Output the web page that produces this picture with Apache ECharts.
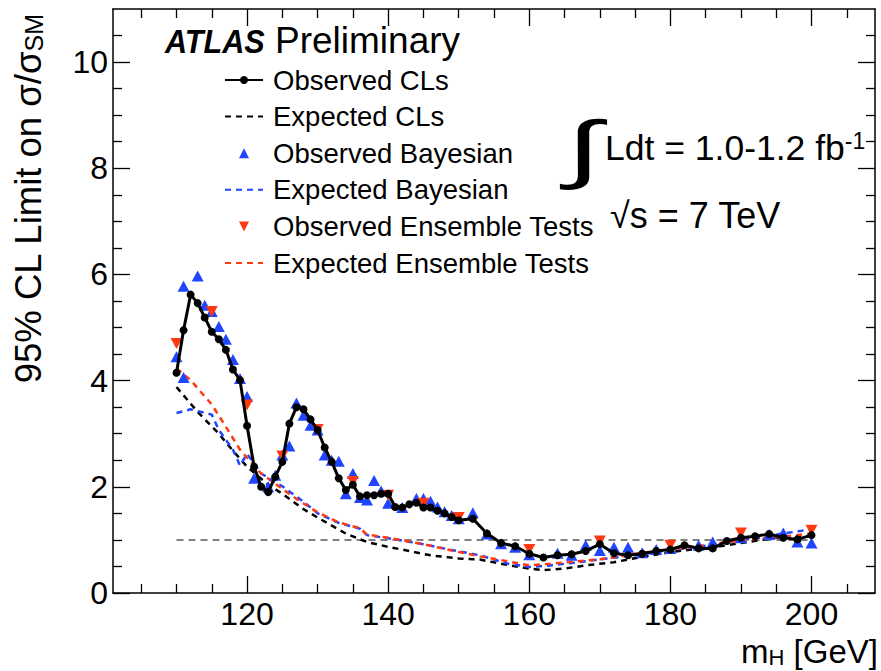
<!DOCTYPE html>
<html>
<head>
<meta charset="utf-8">
<script src="https://cdn.jsdelivr.net/npm/echarts@6/dist/echarts.min.js"></script>
<style>
html,body{margin:0;padding:0;background:#fff;}
#chart{width:881px;height:671px;}
</style>
</head>
<body>
<div id="chart"></div>
<script>
// ---------- data ----------
const massObs = [110,111,112,113,114,115,116,117,118,119,120,121,122,123,124,125,126,127,128,129,130,
  131,132,133,134,135,136,137,138,139,140,141,142,143,144,145,146,147,148,149,150,
  152,154,156,158,160,162,164,166,168,170,172,174,176,178,180,182,184,186,188,190,192,194,196,198,200];
const obsCLs = [4.15,4.95,5.62,5.46,5.19,4.92,4.78,4.58,4.21,4.01,3.15,2.38,2.00,1.90,2.19,2.47,3.19,3.50,3.46,3.27,3.07,
  2.74,2.47,2.16,1.94,2.04,1.82,1.84,1.84,1.87,1.87,1.62,1.61,1.67,1.70,1.61,1.61,1.55,1.50,1.43,1.37,
  1.40,1.12,0.94,0.88,0.74,0.67,0.71,0.73,0.79,0.92,0.75,0.71,0.74,0.79,0.82,0.90,0.84,0.84,0.98,1.04,1.07,1.11,1.04,1.01,1.09];

const expCLsMass = [110,113,116,118,120,123,125,128,130,134,137,140,146,150,153,156,160,162,165,168,172,176,180,183,187,191,195,200];
const expCLs     = [3.88,3.41,3.00,2.68,2.38,2.04,1.87,1.58,1.42,1.12,0.96,0.87,0.71,0.65,0.63,0.55,0.46,0.43,0.46,0.52,0.58,0.68,0.77,0.82,0.88,0.96,1.04,1.07];

const bayObsMass = [110,111,111,113,114,115,116,117,118,119,120,121,123,124,125,126,127,128,129,130,131,132,133,134,135,136,137,138,139,140,
  142,144,145,146,147,148,149,150,152,154,156,158,160,164,166,168,170,172,174,176,178,180,184,186,190,194,196,198,200];
const bayObs     = [4.45,4.06,5.78,5.97,5.42,5.30,5.02,4.78,4.40,4.04,3.70,2.16,2.00,2.22,2.60,2.77,3.58,3.35,3.16,3.07,2.60,2.50,2.48,1.87,2.25,1.80,1.75,2.12,1.92,1.69,
  1.61,1.78,1.78,1.73,1.62,1.53,1.46,1.40,1.51,1.11,0.93,0.86,0.72,0.75,0.71,0.90,0.80,0.86,0.86,0.76,0.82,0.84,0.90,0.96,1.04,1.10,1.13,0.96,0.94];

const bayExpMass = [110,112,115,116,118,119,120,121,122,125,128,130,133,136,137,140,145,149,153,157,160,163,167,171,175,180,184,188,192,196,200];
const bayExp     = [3.39,3.46,3.36,3.07,2.70,2.40,2.62,2.44,2.25,2.01,1.72,1.50,1.32,1.21,1.09,1.03,0.92,0.81,0.71,0.55,0.49,0.52,0.58,0.65,0.71,0.81,0.87,0.96,1.03,1.12,1.20];

const ensObsMass = [110,115,120,125,130,135,140,145,150,160,170,180,190,200];
const ensObs     = [4.70,5.30,3.54,2.58,3.08,2.10,1.84,1.69,1.42,0.82,0.98,0.90,1.13,1.18];

const ensExpMass = [110,112,115,117,119,122,124,127,130,133,136,137,140,145,149,153,156,160,163,167,171,175,180,183,188,193,196,200];
const ensExp     = [4.23,4.01,3.55,3.13,2.70,2.25,2.06,1.77,1.52,1.33,1.22,1.10,1.04,0.92,0.80,0.69,0.62,0.52,0.55,0.60,0.65,0.74,0.82,0.87,0.96,1.03,1.06,1.12];

const smMass  = [110, 200];
const smLevel = [1, 1];

const xLabels = [120,140,160,180,200];
const xMinor  = [105,110,115,125,130,135,145,150,155,165,170,175,185,190,195,205];
const yLabels = [0,2,4,6,8,10];
const yMinor  = [0.5,1,1.5,2.5,3,3.5,4.5,5,5.5,6.5,7,7.5,8.5,9,9.5,10.5];

const seriesNames = ['Observed CLs','Expected CLs','Observed Bayesian','Expected Bayesian','Observed Ensemble Tests','Expected Ensemble Tests'];

// ---------- chart ----------
const zip = (a,b) => a.map((v,i)=>[v,b[i]]);
const FONT = 'Liberation Sans, Arial, Helvetica, sans-serif';
const BLUE = '#1f45ff', RED = '#ff3a12';
const X0 = 101, X1 = 209, Y0 = 0, Y1 = 11;
const TRI_UP = 'path://M0,10 L5,0 L10,10 Z';
const TRI_DOWN = 'path://M0,0 L10,0 L5,10 Z';

function xAx(pos, labels, ticks, len, line) {
  return {
    type:'value', position:pos, min:X0, max:X1,
    axisLine:{show:line, onZero:false, lineStyle:{color:'#000', width:1.5}},
    axisTick:{show:true, inside:true, length:len, customValues:ticks, lineStyle:{color:'#000', width:1.3}},
    axisLabel:{show:labels, customValues:xLabels, color:'#000', fontFamily:FONT, fontSize:32, lineHeight:24, margin:9},
    splitLine:{show:false}
  };
}
function yAx(pos, labels, ticks, len, line) {
  return {
    type:'value', position:pos, min:Y0, max:Y1,
    axisLine:{show:line, onZero:false, lineStyle:{color:'#000', width:1.5}},
    axisTick:{show:true, inside:true, length:len, customValues:ticks, lineStyle:{color:'#000', width:1.3}},
    axisLabel:{show:labels, customValues:yLabels, color:'#000', fontFamily:FONT, fontSize:32, margin:5},
    splitLine:{show:false}
  };
}

const chart = echarts.init(document.getElementById('chart'), null, {renderer:'svg'});
chart.setOption({
  animation:false,
  backgroundColor:'#fff',
  grid:{left:113, right:6, top:9, bottom:78, containLabel:false},
  xAxis:[
    xAx('bottom', true, xLabels, 17, true),
    xAx('bottom', false, xMinor, 9, false),
    xAx('top', false, xLabels, 17, true),
    xAx('top', false, xMinor, 9, false)
  ],
  yAxis:[
    yAx('left', true, yLabels, 17, true),
    yAx('left', false, yMinor, 9, false),
    yAx('right', false, yLabels, 17, true),
    yAx('right', false, yMinor, 9, false)
  ],
  legend:{
    orient:'vertical', left:224, top:66, padding:0, itemWidth:38, itemHeight:10, itemGap:8.6,
    textStyle:{fontFamily:FONT, fontSize:27.5, color:'#000', lineHeight:28, padding:[0,0,0,5]},
    data:[
      {name:seriesNames[0]},
      {name:seriesNames[1], itemStyle:{opacity:0}},
      {name:seriesNames[2], icon:TRI_UP},
      {name:seriesNames[3], itemStyle:{opacity:0}},
      {name:seriesNames[4], icon:TRI_DOWN},
      {name:seriesNames[5], itemStyle:{opacity:0}}
    ]
  },
  series:[
    {name:seriesNames[0], type:'line', data:zip(massObs, obsCLs), z:10,
      symbol:'circle', symbolSize:8, showSymbol:true,
      itemStyle:{color:'#000'}, lineStyle:{color:'#000', width:3}},
    {name:seriesNames[1], type:'line', data:zip(expCLsMass, expCLs), z:3, symbol:'none',
      itemStyle:{color:'#000'}, lineStyle:{color:'#000', width:2.5, type:[6,5]}},
    {name:seriesNames[2], type:'scatter', data:zip(bayObsMass, bayObs), z:5,
      symbol:'triangle', symbolSize:[12,11], itemStyle:{color:BLUE, opacity:1}},
    {name:seriesNames[3], type:'line', data:zip(bayExpMass, bayExp), z:3, symbol:'none',
      itemStyle:{color:BLUE}, lineStyle:{color:BLUE, width:2.5, type:[6,5]}},
    {name:seriesNames[4], type:'scatter', data:zip(ensObsMass, ensObs), z:6,
      symbol:'triangle', symbolRotate:180, symbolSize:[12,11], itemStyle:{color:RED, opacity:1}},
    {name:seriesNames[5], type:'line', data:zip(ensExpMass, ensExp), z:4, symbol:'none',
      itemStyle:{color:RED}, lineStyle:{color:RED, width:2.5, type:[6,5]}},
    {name:'SM', type:'line', data:zip(smMass, smLevel), z:2, symbol:'none', silent:true,
      lineStyle:{color:'#808080', width:2, type:[7,5]}}
  ],
  graphic:[
    {type:'text', x:165, y:24.5, scaleX:0.9, style:{text:'ATLAS', fill:'#000', fontFamily:FONT, fontSize:34,
      fontWeight:'bold', fontStyle:'italic', verticalAlign:'top'}},
    {type:'text', x:275, y:22, style:{text:'Preliminary', fill:'#000', fontFamily:FONT, fontSize:37, verticalAlign:'top'}},
    {type:'text', x:566, y:110, scaleX:1.7, style:{text:'∫', fill:'#000', fontFamily:FONT, fontSize:75, verticalAlign:'top'}},
    {type:'text', x:605, y:129.5, style:{
      text:'{t|Ldt = 1.0-1.2 fb}{s|-1}', fill:'#000', verticalAlign:'top',
      rich:{t:{fontFamily:FONT, fontSize:35.5, verticalAlign:'bottom', lineHeight:36, padding:[7.5,0,0,0]},
            s:{fontFamily:FONT, fontSize:23, verticalAlign:'top', lineHeight:23}}}},
    {type:'text', x:610, y:197, style:{text:'√s = 7 TeV', fill:'#000', fontFamily:FONT, fontSize:36, verticalAlign:'top'}},
    {type:'text', x:878, y:635, style:{
      text:'{t|m}{s|H}{t| [GeV]}', fill:'#000', align:'right', verticalAlign:'top',
      rich:{t:{fontFamily:FONT, fontSize:33, verticalAlign:'top', lineHeight:33},
            s:{fontFamily:FONT, fontSize:22, verticalAlign:'bottom', lineHeight:22, padding:[12,0,0,0]}}}},
    {type:'text', x:28, y:14, rotation:Math.PI/2, style:{
      text:'{t|95% CL Limit on σ/σ}{s|SM}', fill:'#000', align:'right', verticalAlign:'middle',
      rich:{t:{fontFamily:FONT, fontSize:36.5, verticalAlign:'top', lineHeight:37},
            s:{fontFamily:FONT, fontSize:25, verticalAlign:'bottom', lineHeight:25, padding:[18,0,0,0]}}}}
  ]
});
</script>
</body>
</html>
